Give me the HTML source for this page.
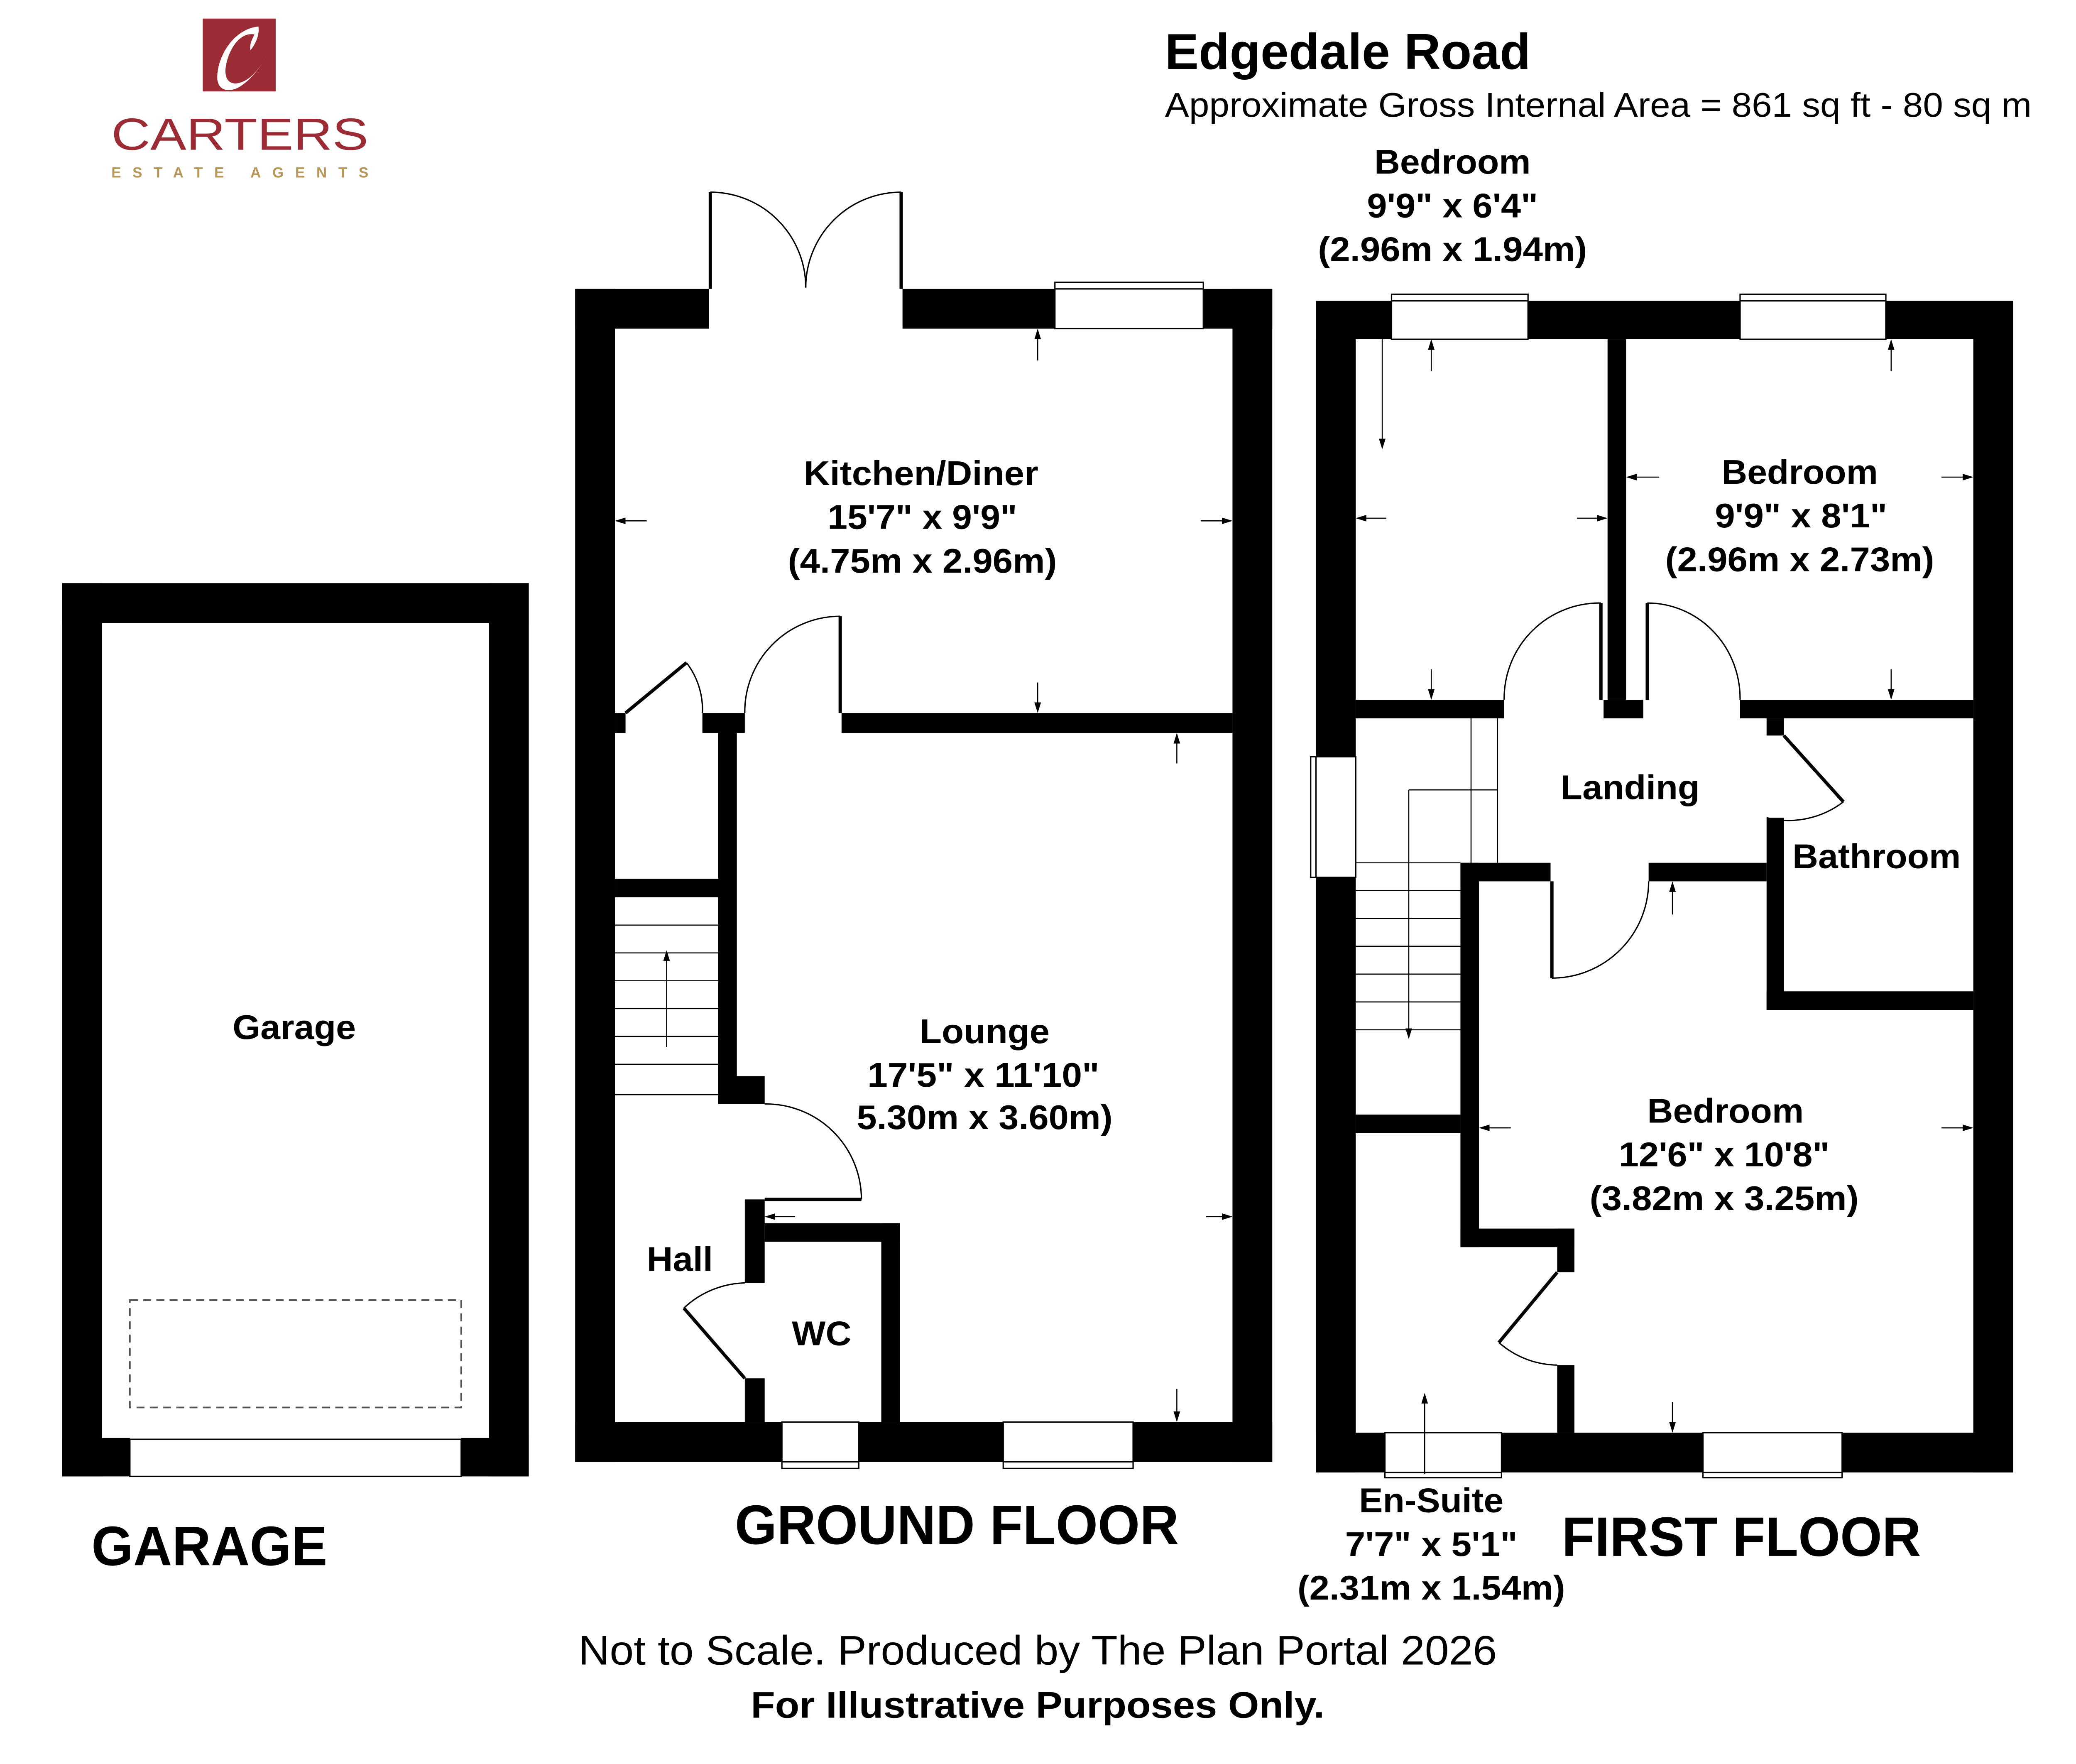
<!DOCTYPE html>
<html><head><meta charset="utf-8">
<style>
html,body{margin:0;padding:0;background:#fff;}
svg{display:block;}
text{font-family:"Liberation Sans",Arial,sans-serif;}
.b{font-weight:bold;}
</style></head>
<body>
<svg width="5024" height="4248" viewBox="0 0 1574 1331" preserveAspectRatio="none" xmlns="http://www.w3.org/2000/svg">
<defs>
<marker id="ah" markerWidth="8" markerHeight="8" refX="7" refY="4" orient="auto" markerUnits="userSpaceOnUse">
<path d="M0,1.5 L8,4 L0,6.5 Z" fill="#000"/>
</marker>
</defs>
<rect width="1574" height="1331" fill="#fff"/>

<!-- Logo -->
<rect x="153" y="14" width="55" height="55" fill="#9b2c35"/>
<path d="M195,20 C175,22 163,45 164,60 C165,68 172,70 180,66 C190,60 197,50 201,42 C196,52 188,62 178,63 C170,63 169,55 171,47 C174,35 182,24 192,26 C190,30 188,34 189,38 C193,33 196,26 195,20 Z" fill="#fff"/>
<text x="181" y="113" font-size="34" fill="#9b2c35" text-anchor="middle" textLength="194" lengthAdjust="spacingAndGlyphs">CARTERS</text>
<text x="181" y="134" font-size="11" fill="#b8975a" text-anchor="middle" font-weight="bold" textLength="194" lengthAdjust="spacing">ESTATE AGENTS</text>

<!-- Title -->
<text x="879" y="52" font-size="38" class="b" textLength="276" lengthAdjust="spacingAndGlyphs">Edgedale Road</text>
<text x="879" y="88" font-size="26" textLength="654" lengthAdjust="spacingAndGlyphs">Approximate Gross Internal Area = 861 sq ft - 80 sq m</text>

<!-- ============ GARAGE ============ -->
<g fill="#000">
<rect x="47" y="440" width="352" height="30"/>
<rect x="47" y="440" width="30" height="674"/>
<rect x="369" y="440" width="30" height="674"/>
<rect x="47" y="1085" width="51" height="29"/>
<rect x="348" y="1085" width="51" height="29"/>
</g>
<rect x="98" y="1086" width="250" height="28" fill="#fff" stroke="#000" stroke-width="1"/>
<rect x="98" y="981" width="250" height="81" fill="none" stroke="#555" stroke-width="1.2" stroke-dasharray="6,4"/>
<text x="222" y="784" font-size="26" class="b" text-anchor="middle" textLength="93" lengthAdjust="spacingAndGlyphs">Garage</text>
<text x="158" y="1181" font-size="42" class="b" text-anchor="middle" textLength="178" lengthAdjust="spacingAndGlyphs">GARAGE</text>

<!-- ============ GROUND FLOOR ============ -->
<g fill="#000">
<rect x="434" y="218" width="101" height="30"/>
<rect x="681" y="218" width="115" height="30"/>
<rect x="908" y="218" width="52" height="30"/>
<rect x="434" y="218" width="30" height="885"/>
<rect x="930" y="218" width="30" height="885"/>
<rect x="434" y="1073" width="156" height="30"/>
<rect x="648" y="1073" width="109" height="30"/>
<rect x="855" y="1073" width="105" height="30"/>
<rect x="635" y="538" width="295" height="15"/>
<rect x="464" y="538" width="8" height="15"/>
<rect x="530" y="538" width="32" height="15"/>
<rect x="542" y="538" width="14" height="288"/>
<rect x="542" y="812" width="35" height="21"/>
<rect x="464" y="663" width="78" height="14"/>
<rect x="562" y="905" width="15" height="63"/>
<rect x="577" y="923" width="102" height="14"/>
<rect x="665" y="923" width="14" height="150"/>
<rect x="562" y="1040" width="15" height="33"/>
</g>
<rect x="796" y="213" width="112" height="35" fill="#fff" stroke="#000" stroke-width="1"/>
<line x1="796" y1="218" x2="908" y2="218" stroke="#000" stroke-width="1"/>
<rect x="590" y="1073" width="58" height="35" fill="#fff" stroke="#000" stroke-width="1"/>
<line x1="590" y1="1103" x2="648" y2="1103" stroke="#000" stroke-width="1"/>
<rect x="757" y="1073" width="98" height="35" fill="#fff" stroke="#000" stroke-width="1"/>
<line x1="757" y1="1103" x2="855" y2="1103" stroke="#000" stroke-width="1"/>
<g fill="none" stroke="#000">
<line x1="536" y1="145" x2="536" y2="218" stroke-width="2.5"/>
<line x1="680" y1="145" x2="680" y2="218" stroke-width="2.5"/>
<path d="M536,145 A72,72 0 0 1 608,217" stroke-width="1"/>
<path d="M680,145 A72,72 0 0 0 608,217" stroke-width="1"/>
<line x1="634" y1="465" x2="634" y2="538" stroke-width="2.5"/>
<path d="M634,465 A72,72 0 0 0 562,538" stroke-width="1"/>
<line x1="472" y1="538" x2="518" y2="500" stroke-width="2.5"/>
<path d="M518,500 A58,58 0 0 1 530,538" stroke-width="1"/>
<line x1="577" y1="905" x2="650" y2="905" stroke-width="2.5"/>
<path d="M577,833 A72,72 0 0 1 650,905" stroke-width="1"/>
<line x1="562" y1="1040" x2="516" y2="987" stroke-width="2.5"/>
<path d="M516,987 A70,70 0 0 1 562,968" stroke-width="1"/>
</g>
<g stroke="#000" stroke-width="0.8">
<line x1="464" y1="698" x2="542" y2="698"/>
<line x1="464" y1="719" x2="542" y2="719"/>
<line x1="464" y1="740" x2="542" y2="740"/>
<line x1="464" y1="761" x2="542" y2="761"/>
<line x1="464" y1="782" x2="542" y2="782"/>
<line x1="464" y1="803" x2="542" y2="803"/>
<line x1="464" y1="826" x2="542" y2="826"/>
<line x1="503" y1="790" x2="503" y2="718" marker-end="url(#ah)"/>
</g>
<g stroke="#000" stroke-width="0.8">
<line x1="488" y1="393" x2="465" y2="393" marker-end="url(#ah)"/>
<line x1="906" y1="393" x2="929" y2="393" marker-end="url(#ah)"/>
<line x1="783" y1="272" x2="783" y2="249" marker-end="url(#ah)"/>
<line x1="783" y1="515" x2="783" y2="537" marker-end="url(#ah)"/>
<line x1="888" y1="576" x2="888" y2="554" marker-end="url(#ah)"/>
<line x1="888" y1="1048" x2="888" y2="1072" marker-end="url(#ah)"/>
<line x1="910" y1="918" x2="929" y2="918" marker-end="url(#ah)"/>
<line x1="600" y1="918" x2="578" y2="918" marker-end="url(#ah)"/>
</g>
<g class="b" font-size="26" text-anchor="middle" font-weight="bold">
<text x="695" y="366" textLength="177" lengthAdjust="spacingAndGlyphs">Kitchen/Diner</text>
<text x="696" y="399" textLength="143" lengthAdjust="spacingAndGlyphs">15'7" x 9'9"</text>
<text x="696" y="432" textLength="203" lengthAdjust="spacingAndGlyphs">(4.75m x 2.96m)</text>
<text x="743" y="787" textLength="98" lengthAdjust="spacingAndGlyphs">Lounge</text>
<text x="742" y="820" textLength="175" lengthAdjust="spacingAndGlyphs">17'5" x 11'10"</text>
<text x="743" y="852" textLength="193" lengthAdjust="spacingAndGlyphs">5.30m x 3.60m)</text>
<text x="513" y="959" textLength="50" lengthAdjust="spacingAndGlyphs">Hall</text>
<text x="620" y="1015" textLength="45" lengthAdjust="spacingAndGlyphs">WC</text>
</g>
<text x="722" y="1165" font-size="42" class="b" text-anchor="middle" textLength="335" lengthAdjust="spacingAndGlyphs">GROUND FLOOR</text>

<!-- ============ FIRST FLOOR ============ -->
<g fill="#000">
<rect x="993" y="227" width="57" height="29"/>
<rect x="1153" y="227" width="160" height="29"/>
<rect x="1423" y="227" width="96" height="29"/>
<rect x="993" y="227" width="30" height="344"/>
<rect x="993" y="662" width="30" height="449"/>
<rect x="1489" y="227" width="30" height="884"/>
<rect x="993" y="1081" width="52" height="30"/>
<rect x="1133" y="1081" width="152" height="30"/>
<rect x="1390" y="1081" width="129" height="30"/>
<rect x="1213" y="256" width="14" height="272"/>
<rect x="1210" y="528" width="30" height="14"/>
<rect x="1023" y="528" width="112" height="14"/>
<rect x="1313" y="528" width="176" height="14"/>
<rect x="1333" y="542" width="13" height="13"/>
<rect x="1333" y="617" width="13" height="145"/>
<rect x="1333" y="748" width="156" height="14"/>
<rect x="1102" y="651" width="68" height="14"/>
<rect x="1244" y="651" width="89" height="14"/>
<rect x="1102" y="651" width="14" height="290"/>
<rect x="1102" y="927" width="86" height="14"/>
<rect x="1175" y="927" width="13" height="33"/>
<rect x="1175" y="1030" width="13" height="51"/>
<rect x="1023" y="841" width="79" height="14"/>
</g>
<rect x="1050" y="222" width="103" height="34" fill="#fff" stroke="#000" stroke-width="1"/>
<line x1="1050" y1="227" x2="1153" y2="227" stroke="#000" stroke-width="1"/>
<rect x="1313" y="222" width="110" height="34" fill="#fff" stroke="#000" stroke-width="1"/>
<line x1="1313" y1="227" x2="1423" y2="227" stroke="#000" stroke-width="1"/>
<rect x="989" y="571" width="34" height="91" fill="#fff" stroke="#000" stroke-width="1"/>
<line x1="993" y1="571" x2="993" y2="662" stroke="#000" stroke-width="1"/>
<rect x="1045" y="1081" width="88" height="34" fill="#fff" stroke="#000" stroke-width="1"/>
<line x1="1045" y1="1111" x2="1133" y2="1111" stroke="#000" stroke-width="1"/>
<rect x="1285" y="1081" width="105" height="34" fill="#fff" stroke="#000" stroke-width="1"/>
<line x1="1285" y1="1111" x2="1390" y2="1111" stroke="#000" stroke-width="1"/>
<g fill="none" stroke="#000">
<line x1="1208" y1="455" x2="1208" y2="528" stroke-width="2.5"/>
<path d="M1208,455 A72,72 0 0 0 1135,528" stroke-width="1"/>
<line x1="1243" y1="455" x2="1243" y2="528" stroke-width="2.5"/>
<path d="M1243,455 A70,72 0 0 1 1313,528" stroke-width="1"/>
<line x1="1346" y1="555" x2="1391" y2="605" stroke-width="2.5"/>
<path d="M1391,605 A68,68 0 0 1 1333,617" stroke-width="1"/>
<line x1="1171" y1="665" x2="1171" y2="738" stroke-width="2.5"/>
<path d="M1244,665 A73,73 0 0 1 1171,738" stroke-width="1"/>
<line x1="1175" y1="960" x2="1131" y2="1013" stroke-width="2.5"/>
<path d="M1131,1013 A68,68 0 0 0 1175,1030" stroke-width="1"/>
</g>
<g stroke="#000" stroke-width="0.8" fill="none">
<line x1="1110" y1="542" x2="1110" y2="651"/>
<line x1="1130" y1="542" x2="1130" y2="651"/>
<line x1="1063" y1="596" x2="1130" y2="596"/>
<line x1="1023" y1="651" x2="1102" y2="651"/>
<line x1="1023" y1="672" x2="1102" y2="672"/>
<line x1="1023" y1="693" x2="1102" y2="693"/>
<line x1="1023" y1="714" x2="1102" y2="714"/>
<line x1="1023" y1="735" x2="1102" y2="735"/>
<line x1="1023" y1="756" x2="1102" y2="756"/>
<line x1="1023" y1="777" x2="1102" y2="777"/>
<line x1="1063" y1="596" x2="1063" y2="783" marker-end="url(#ah)"/>
</g>
<g stroke="#000" stroke-width="0.8">
<line x1="1043" y1="256" x2="1043" y2="338" marker-end="url(#ah)"/>
<line x1="1080" y1="280" x2="1080" y2="257" marker-end="url(#ah)"/>
<line x1="1080" y1="505" x2="1080" y2="527" marker-end="url(#ah)"/>
<line x1="1046" y1="391" x2="1024" y2="391" marker-end="url(#ah)"/>
<line x1="1190" y1="391" x2="1212" y2="391" marker-end="url(#ah)"/>
<line x1="1252" y1="360" x2="1228" y2="360" marker-end="url(#ah)"/>
<line x1="1465" y1="360" x2="1488" y2="360" marker-end="url(#ah)"/>
<line x1="1427" y1="280" x2="1427" y2="257" marker-end="url(#ah)"/>
<line x1="1427" y1="505" x2="1427" y2="527" marker-end="url(#ah)"/>
<line x1="1140" y1="851" x2="1117" y2="851" marker-end="url(#ah)"/>
<line x1="1465" y1="851" x2="1488" y2="851" marker-end="url(#ah)"/>
<line x1="1262" y1="1058" x2="1262" y2="1080" marker-end="url(#ah)"/>
<line x1="1262" y1="690" x2="1262" y2="666" marker-end="url(#ah)"/>
<line x1="1075" y1="1112" x2="1075" y2="1052" marker-end="url(#ah)"/>
</g>
<g font-size="26" text-anchor="middle" font-weight="bold">
<text x="1096" y="131" textLength="118" lengthAdjust="spacingAndGlyphs">Bedroom</text>
<text x="1096" y="164" textLength="129" lengthAdjust="spacingAndGlyphs">9'9" x 6'4"</text>
<text x="1096" y="197" textLength="203" lengthAdjust="spacingAndGlyphs">(2.96m x 1.94m)</text>
<text x="1358" y="365" textLength="118" lengthAdjust="spacingAndGlyphs">Bedroom</text>
<text x="1359" y="398" textLength="130" lengthAdjust="spacingAndGlyphs">9'9" x 8'1"</text>
<text x="1358" y="431" textLength="203" lengthAdjust="spacingAndGlyphs">(2.96m x 2.73m)</text>
<text x="1230" y="603" textLength="105" lengthAdjust="spacingAndGlyphs">Landing</text>
<text x="1416" y="655" textLength="127" lengthAdjust="spacingAndGlyphs">Bathroom</text>
<text x="1302" y="847" textLength="118" lengthAdjust="spacingAndGlyphs">Bedroom</text>
<text x="1301" y="880" textLength="159" lengthAdjust="spacingAndGlyphs">12'6" x 10'8"</text>
<text x="1301" y="913" textLength="203" lengthAdjust="spacingAndGlyphs">(3.82m x 3.25m)</text>
<text x="1080" y="1141" textLength="109" lengthAdjust="spacingAndGlyphs">En-Suite</text>
<text x="1080" y="1174" textLength="130" lengthAdjust="spacingAndGlyphs">7'7" x 5'1"</text>
<text x="1080" y="1207" textLength="202" lengthAdjust="spacingAndGlyphs">(2.31m x 1.54m)</text>
</g>
<text x="1314" y="1174" font-size="42" class="b" text-anchor="middle" textLength="271" lengthAdjust="spacingAndGlyphs">FIRST FLOOR</text>

<text x="783" y="1256" font-size="31" text-anchor="middle" textLength="693" lengthAdjust="spacingAndGlyphs">Not to Scale. Produced by The Plan Portal 2026</text>
<text x="783" y="1296" font-size="28" class="b" text-anchor="middle" textLength="433" lengthAdjust="spacingAndGlyphs">For Illustrative Purposes Only.</text>
</svg>
</body></html>
